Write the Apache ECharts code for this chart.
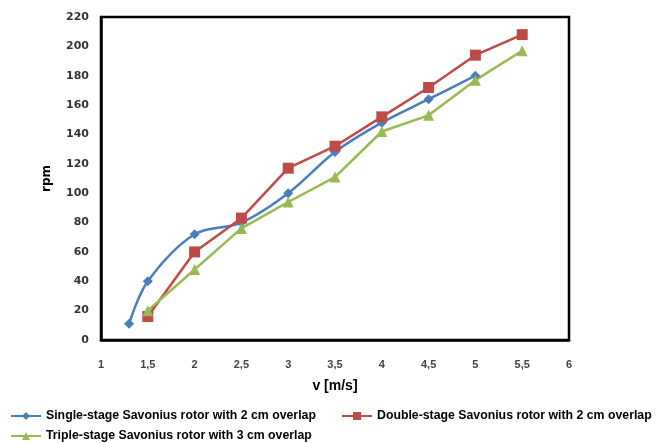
<!DOCTYPE html>
<html><head><meta charset="utf-8">
<script src="https://cdn.jsdelivr.net/npm/echarts@6/dist/echarts.min.js"></script>
<style>html,body{margin:0;padding:0;background:#fff}#c{width:657px;height:443px}</style>
</head><body><div id="c"></div>
<script>
const seriesNames = [
  'Single-stage Savonius rotor with 2 cm overlap',
  'Double-stage Savonius rotor with 2 cm overlap',
  'Triple-stage Savonius rotor with 3 cm overlap'
];
const singleV = [1.3, 1.5, 2, 2.5, 3, 3.5, 4, 4.5, 5];
const singleRpm = [11, 40, 72, 80, 100, 128, 148, 164, 180];
const doubleV = [1.5, 2, 2.5, 3, 3.5, 4, 4.5, 5, 5.5];
const doubleRpm = [16, 60, 83, 117, 132, 152, 172, 194, 208];
const tripleV = [1.5, 2, 2.5, 3, 3.5, 4, 4.5, 5, 5.5];
const tripleRpm = [20, 48, 76, 94, 111, 142, 153, 177, 197];
const xTitle = 'v [m/s]';
const yTitle = 'rpm';

const zip = (a, b) => a.map((v, i) => [v, b[i]]);
const chart = echarts.init(document.getElementById('c'));
const legendText = {fontFamily: '"Liberation Sans", Arial, sans-serif', fontWeight: 'bold', fontSize: 12.3, color: '#000'};
const leg = (left, top, name) => ({left, top, padding: 0, itemWidth: 30, itemHeight: 10, data: [name], textStyle: legendText});
chart.setOption({
  animation: false,
  grid: {left: 101, top: 17, right: 88, bottom: 103, show: true, borderColor: '#000', borderWidth: 2.5, backgroundColor: 'transparent'},
  xAxis: {
    type: 'value', min: 1, max: 6, interval: 0.5,
    name: xTitle, nameLocation: 'middle', nameGap: 39,
    nameTextStyle: {fontFamily: '"Liberation Sans", Arial, sans-serif', fontWeight: 'bold', fontSize: 14, color: '#000'},
    axisLine: {show: true, lineStyle: {color: '#000', width: 2.5}},
    axisTick: {show: false}, splitLine: {show: false},
    axisLabel: {margin: 19, color: '#444', fontWeight: 'bold', fontSize: 11, fontFamily: '"Liberation Sans", Arial, sans-serif',
      formatter: v => String(v).replace('.', ',')}
  },
  yAxis: {
    type: 'value', min: 0, max: 220, interval: 20,
    name: yTitle, nameLocation: 'middle', nameGap: 48, nameRotate: 90,
    nameTextStyle: {fontFamily: '"DejaVu Sans", Verdana, sans-serif', fontWeight: 'bold', fontSize: 12, color: '#000'},
    axisLine: {show: true, lineStyle: {color: '#000', width: 2.5}},
    axisTick: {show: false}, splitLine: {show: false},
    axisLabel: {margin: 12, color: '#333', fontWeight: 'bold', fontSize: 11, fontFamily: '"DejaVu Sans", Verdana, sans-serif'}
  },
  legend: [
    leg(10, 410, seriesNames[0]),
    leg(341, 410, seriesNames[1]),
    leg(10, 430, seriesNames[2])
  ],
  series: [
    {name: seriesNames[0], type: 'line', data: zip(singleV, singleRpm), smooth: 0.35, symbol: 'diamond', symbolSize: 10,
      color: '#4a7ebb', lineStyle: {width: 2.5, color: '#4a7ebb'}, itemStyle: {color: '#4a7ebb'}},
    {name: seriesNames[1], type: 'line', data: zip(doubleV, doubleRpm), symbol: 'rect', symbolSize: 11,
      color: '#be4b48', lineStyle: {width: 2.5, color: '#be4b48'}, itemStyle: {color: '#be4b48'}},
    {name: seriesNames[2], type: 'line', data: zip(tripleV, tripleRpm), symbol: 'triangle', symbolSize: 11,
      color: '#98b954', lineStyle: {width: 2.5, color: '#98b954'}, itemStyle: {color: '#98b954'}}
  ]
});
</script></body></html>
